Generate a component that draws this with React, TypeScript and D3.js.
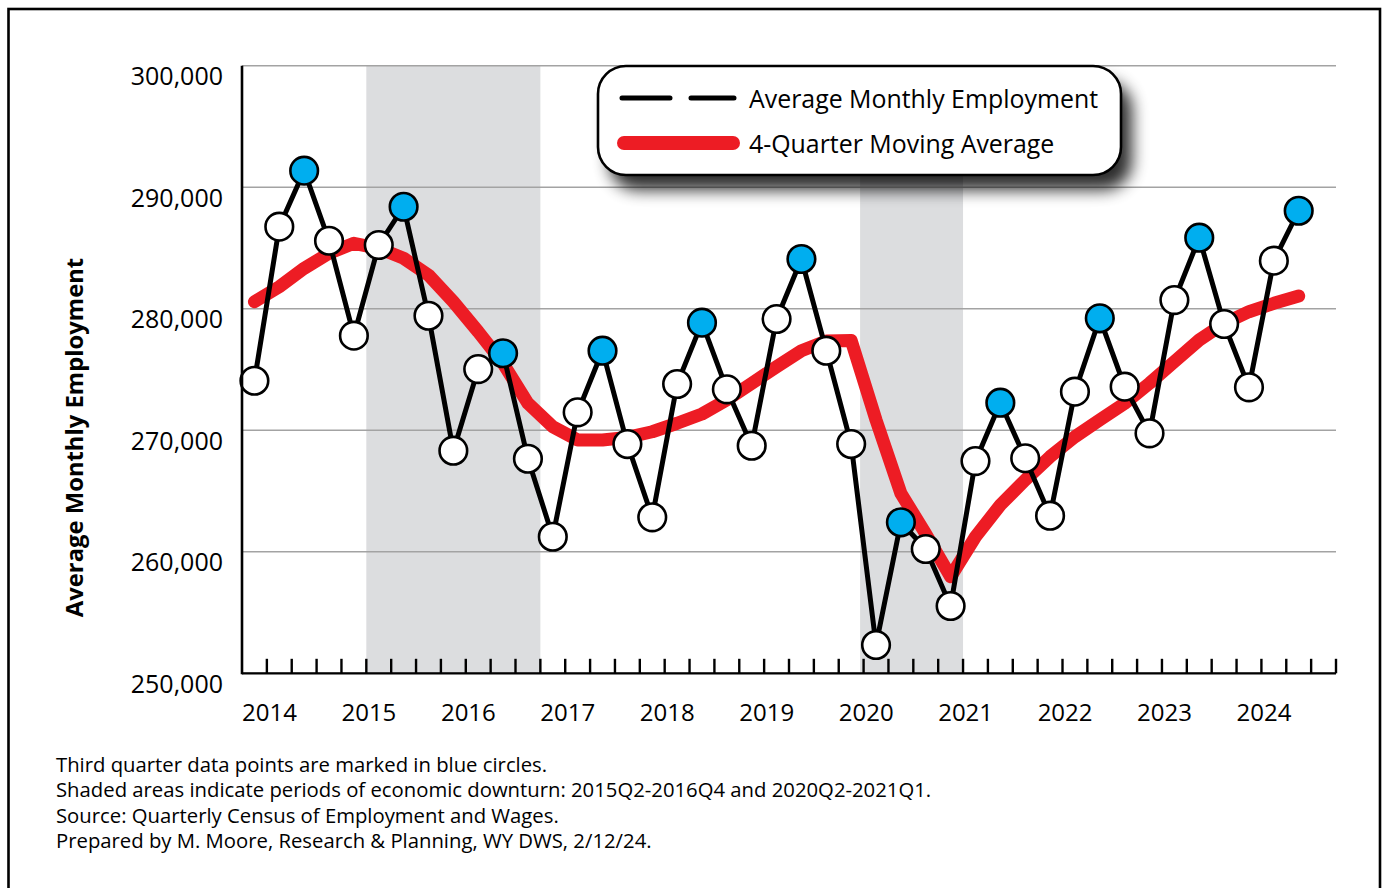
import React from "react";
import * as d3 from "d3";

// ---- Data (2014Q1 .. 2024Q3) ----
const quarters: string[] = [
  "2014Q1","2014Q2","2014Q3","2014Q4",
  "2015Q1","2015Q2","2015Q3","2015Q4",
  "2016Q1","2016Q2","2016Q3","2016Q4",
  "2017Q1","2017Q2","2017Q3","2017Q4",
  "2018Q1","2018Q2","2018Q3","2018Q4",
  "2019Q1","2019Q2","2019Q3","2019Q4",
  "2020Q1","2020Q2","2020Q3","2020Q4",
  "2021Q1","2021Q2","2021Q3","2021Q4",
  "2022Q1","2022Q2","2022Q3","2022Q4",
  "2023Q1","2023Q2","2023Q3","2023Q4",
  "2024Q1","2024Q2","2024Q3",
];

const employment: number[] = [
  274080, 286760, 291370, 285600,
  277790, 285250, 288400, 279430,
  268320, 275040, 276340, 267660,
  261240, 271480, 276550, 268870,
  262840, 273810, 278860, 273370,
  268730, 279160, 284100, 276550,
  268870, 252330, 262430, 260230,
  255540, 267470, 272270, 267700,
  262970, 273180, 279220, 273590,
  269750, 280720, 285850, 278750,
  273540, 283960, 288070,
];

const movingAverage: number[] = [
  280580, 281820, 283330, 284570,
  285390, 284980, 284160, 282780,
  280580, 278110, 275510, 272220,
  270300, 269200, 269200, 269420,
  269880, 270580, 271340, 272500,
  273870, 275230, 276550, 277350,
  277400, 270850, 264810, 261470,
  257950, 261240, 263850, 265910,
  267830, 269470, 270850, 272220,
  273870, 275650, 277430, 278800,
  279760, 280450, 281050,
];

const years: number[] = [2014, 2015, 2016, 2017, 2018, 2019, 2020, 2021, 2022, 2023, 2024];
const yTicks: number[] = [250000, 260000, 270000, 280000, 290000, 300000];
const recessions: { start: string; end: string }[] = [
  { start: "2015Q2", end: "2016Q4" },
  { start: "2020Q2", end: "2021Q1" },
];
const legendLabels: string[] = ["Average Monthly Employment", "4-Quarter Moving Average"];
const yTitle = "Average Monthly Employment";
const notes: string[] = [
  "Third quarter data points are marked in blue circles.",
  "Shaded areas indicate periods of economic downturn: 2015Q2-2016Q4 and 2020Q2-2021Q1.",
  "Source: Quarterly Census of Employment and Wages.",
  "Prepared by M. Moore, Research & Planning, WY DWS, 2/12/24.",
];

const FONT = "'Open Sans', 'Noto Sans', sans-serif";

const qIndex = (q: string) => (+q.slice(0, 4) - 2014) * 4 + (+q.slice(5) - 1);

export default function App() {
  const W = 1382, H = 888;
  const x = d3.scaleLinear().domain([0, 44]).range([242, 1336]);
  const y = d3.scaleLinear().domain([250000, 300000]).range([673.3, 65.8]);
  const cx = (i: number) => x(i + 0.5);

  const lineGen = d3.line<number>().x((_, i) => cx(i)).y((d) => y(d));
  const boundaries = d3.range(1, 45);

  return (
    <svg width={W} height={H} style={{ position: "absolute", left: 0, top: 0, background: "#fff" }} fontFamily={FONT}>
      <defs>
        <filter id="shadow" x="-20%" y="-30%" width="150%" height="180%">
          <feGaussianBlur stdDeviation="8" />
        </filter>
      </defs>
      <rect x={0} y={0} width={W} height={H} fill="#fff" />
      {/* outer frame */}
      <rect x={8.5} y={9} width={1371.5} height={900} fill="none" stroke="#000" strokeWidth={2.6} />

      {/* recession bands */}
      {recessions.map((r, i) => (
        <rect key={i} x={x(qIndex(r.start)) - (i === 1 ? 3.5 : 0)} y={y(300000)}
          width={x(qIndex(r.end) + 1) - x(qIndex(r.start)) + (i === 1 ? 3.5 : 0)}
          height={y(250000) - y(300000)} fill="#dcdddf" />
      ))}

      {/* gridlines */}
      {yTicks.map((t) => (
        <line key={t} x1={x(0)} x2={x(44)} y1={y(t)} y2={y(t)} stroke="#a3a3a3" strokeWidth={1.5} />
      ))}

      {/* y tick labels */}
      {yTicks.map((t) => (
        <text key={t} x={223} y={y(t) + 19.5} textAnchor="end" fontSize={25} fill="#000">
          {d3.format(",")(t)}
        </text>
      ))}

      {/* year labels */}
      {years.map((yr) => (
        <text key={yr} x={x((yr - 2014) * 4)} y={721} fontSize={24} fill="#000">{yr}</text>
      ))}

      {/* moving average */}
      <path d={lineGen(movingAverage) || ""} fill="none" stroke="#ed1c24" strokeWidth={13} strokeLinejoin="round" strokeLinecap="round" />

      {/* employment line */}
      <path d={lineGen(employment) || ""} fill="none" stroke="#000" strokeWidth={5} strokeLinejoin="miter" />

      {/* markers */}
      {employment.map((v, i) => (
        <circle key={i} cx={cx(i)} cy={y(v)} r={13.8}
          fill={quarters[i].endsWith("Q3") ? "#00aeef" : "#fff"} stroke="#000" strokeWidth={2.6} />
      ))}

      {/* axes */}
      <line x1={x(0)} x2={x(0)} y1={y(300000)} y2={y(250000) + 1} stroke="#000" strokeWidth={2.6} />
      <line x1={x(0)} x2={x(44)} y1={y(250000)} y2={y(250000)} stroke="#000" strokeWidth={2.2} />
      {boundaries.map((b) => (
        <line key={b} x1={x(b)} x2={x(b)} y1={y(250000)} y2={y(250000) - 14.5} stroke="#000" strokeWidth={2.4} />
      ))}

      {/* y title */}
      <text transform={`translate(83,437.5) rotate(-90)`} textAnchor="middle" fontSize={23.8} fontWeight="bold" fill="#000">
        {yTitle}
      </text>

      {/* legend */}
      <g>
        <rect x={609} y={81} width={523} height={109} rx={28} ry={28} fill="#000" opacity={0.82} filter="url(#shadow)" />
        <rect x={598} y={66} width={523} height={109} rx={28} ry={28} fill="#fff" stroke="#000" strokeWidth={2.6} />
        <line x1={622} x2={734} y1={98} y2={98} stroke="#000" strokeWidth={5} strokeDasharray="48 21" strokeLinecap="round" />
        <text x={749} y={107.5} fontSize={24.9} fill="#000">{legendLabels[0]}</text>
        <line x1={624} x2={733} y1={143} y2={143} stroke="#ed1c24" strokeWidth={14} strokeLinecap="round" />
        <text x={749} y={152.5} fontSize={24.9} fill="#000">{legendLabels[1]}</text>
      </g>

      {/* notes */}
      {notes.map((n, i) => (
        <text key={i} x={56} y={771.5 + i * 25.5} fontSize={20.3} fill="#000">{n}</text>
      ))}
    </svg>
  );
}
